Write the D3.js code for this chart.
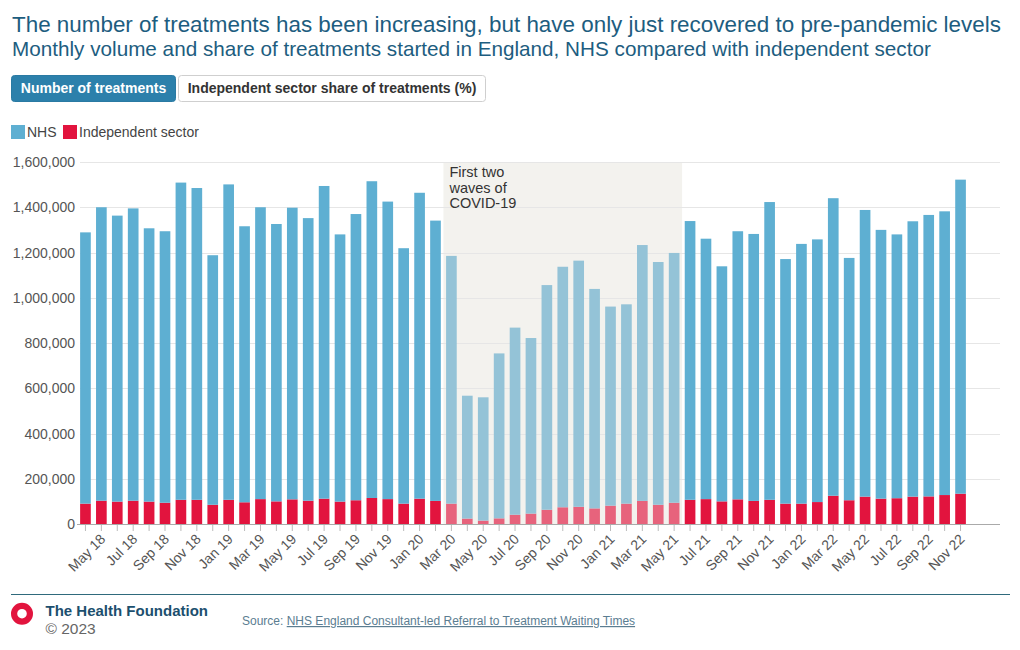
<!DOCTYPE html>
<html>
<head>
<meta charset="utf-8">
<script src="https://cdn.jsdelivr.net/npm/d3@7"></script>
<style>
  body { margin: 0; background: #fff; }
  svg { font-family: "Liberation Sans", Arial, sans-serif; display: block; }
</style>
</head>
<body>
<svg width="1020" height="650"></svg>
<script>
// monthly labels, Apr 18 .. Nov 22
let monthNames = ["Jan", "Feb", "Mar", "Apr", "May", "Jun", "Jul", "Aug", "Sep", "Oct", "Nov", "Dec"];
let months = [];
for (let y = 18; y <= 22; y++) {
    for (let m = 0; m < 12; m++) {
        if (y === 18 && m < 3) continue;
        if (y === 22 && m > 10) continue;
        months.push(monthNames[m] + " " + y);
    }
}

// thousands of treatments started
let nhs = [1199, 1297, 1264, 1292, 1208, 1200, 1402, 1378, 1103, 1394, 1220, 1290,
    1226, 1289, 1249, 1382, 1181, 1265, 1400, 1315, 1129, 1352, 1239, 1095,
    543, 545, 729, 827, 776, 993, 1063, 1088, 970, 880, 881, 1131, 1073, 1104,
    1232, 1151, 1039, 1185, 1180, 1316, 1081, 1148, 1161, 1315, 1071, 1267,
    1188, 1166, 1217, 1244, 1254, 1388];
let independent = [90, 103, 99, 103, 99, 94, 107, 107, 85, 107, 96, 110,
    100, 109, 103, 112, 99, 105, 115, 110, 90, 112, 102, 90,
    24, 15, 25, 41, 46, 63, 74, 76, 69, 81, 90, 102, 85, 94,
    107, 110, 100, 109, 102, 107, 90, 90, 97, 125, 105, 121,
    112, 114, 121, 122, 128, 134];

let covidStart = "Mar 20", covidEnd = "May 21";
let yTicks = [0, 200000, 400000, 600000, 800000, 1000000, 1200000, 1400000, 1600000];

let title = "The number of treatments has been increasing, but have only just recovered to pre-pandemic levels";
let subtitle = "Monthly volume and share of treatments started in England, NHS compared with independent sector";

let colNhs = "#5eafd2", colIs = "#e2143e";
let colNhsFade = "#94c3d7", colIsFade = "#e7637c";

let svg = d3.select("svg");

// fit a text to a target width
function fitText(sel, w) {
    let len = sel.node().getComputedTextLength();
    let fs = parseFloat(sel.attr("font-size"));
    sel.attr("font-size", (fs * w / len).toFixed(2));
}

let t1 = svg.append("text").attr("x", 12).attr("y", 32)
    .attr("font-size", 21).attr("fill", "#1d5d80").text(title);
fitText(t1, 989);
let t2 = svg.append("text").attr("x", 12).attr("y", 56)
    .attr("font-size", 19).attr("fill", "#1d5d80").text(subtitle);
fitText(t2, 919);

// buttons
svg.append("rect").attr("x", 11.5).attr("y", 75.5).attr("width", 164).attr("height", 26)
    .attr("rx", 3).attr("fill", "#2c80ab").attr("stroke", "#2a7aa3");
svg.append("text").attr("x", 93.5).attr("y", 93).attr("text-anchor", "middle")
    .attr("font-size", 14).attr("font-weight", "bold").attr("fill", "#fff").text("Number of treatments");
svg.append("rect").attr("x", 178.5).attr("y", 75.5).attr("width", 307).attr("height", 26)
    .attr("rx", 3).attr("fill", "#fff").attr("stroke", "#cfcfcf");
svg.append("text").attr("x", 332).attr("y", 93).attr("text-anchor", "middle")
    .attr("font-size", 14).attr("font-weight", "bold").attr("fill", "#333")
    .text("Independent sector share of treatments (%)");

// legend
let legend = [{ name: "NHS", col: colNhs, x: 11 }, { name: "Independent sector", col: colIs, x: 63 }];
legend.forEach(l => {
    svg.append("rect").attr("x", l.x).attr("y", 125).attr("width", 14).attr("height", 14).attr("fill", l.col);
    svg.append("text").attr("x", l.x + 16).attr("y", 137).attr("font-size", 14).attr("fill", "#444").text(l.name);
});

// scales
let x = d3.scaleBand().domain(months).range([77.5, 968.5]).paddingInner(0.33).paddingOuter(0.165);
let y = d3.scaleLinear().domain([0, 1600000]).range([524, 162]);

// covid shading
let sx0 = x(covidStart) - x.step() * x.paddingInner() / 2;
let sx1 = x(covidEnd) + x.bandwidth() + x.step() * x.paddingInner() / 2;
svg.append("rect").attr("x", sx0).attr("y", y(1600000)).attr("width", sx1 - sx0)
    .attr("height", y(0) - y(1600000)).attr("fill", "#f3f2ee");

// grid and y labels
svg.append("g").selectAll("line").data(yTicks.slice(1)).enter().append("line")
    .attr("x1", 80).attr("x2", 1000)
    .attr("y1", d => Math.round(y(d)) + 0.5).attr("y2", d => Math.round(y(d)) + 0.5)
    .attr("stroke", "#e6e6e6");
svg.append("g").selectAll("text").data(yTicks).enter().append("text")
    .attr("x", 75).attr("y", d => y(d) + 5).attr("text-anchor", "end")
    .attr("font-size", 14).attr("fill", "#555").text(d => d3.format(",")(d));

let inCovid = i => i >= months.indexOf(covidStart) && i <= months.indexOf(covidEnd);

// stacked bars
let rows = months.map((m, i) => ({ m: m, i: i, is: independent[i] * 1000, nhs: nhs[i] * 1000 }));
let bars = svg.append("g");
bars.selectAll(".is").data(rows).enter().append("rect").attr("class", "is")
    .attr("x", d => x(d.m)).attr("width", x.bandwidth())
    .attr("y", d => y(d.is)).attr("height", d => y(0) - y(d.is))
    .attr("fill", d => inCovid(d.i) ? colIsFade : colIs);
bars.selectAll(".nhs").data(rows).enter().append("rect").attr("class", "nhs")
    .attr("x", d => x(d.m)).attr("width", x.bandwidth())
    .attr("y", d => y(d.is + d.nhs)).attr("height", d => y(d.is) - y(d.is + d.nhs))
    .attr("fill", d => inCovid(d.i) ? colNhsFade : colNhs);

// x axis
svg.append("line").attr("x1", 77).attr("x2", 1000).attr("y1", 524.5).attr("y2", 524.5).attr("stroke", "#aaa");
svg.append("g").selectAll("line").data(months).enter().append("line")
    .attr("x1", d => x(d) + x.bandwidth() / 2).attr("x2", d => x(d) + x.bandwidth() / 2)
    .attr("y1", 525).attr("y2", 531).attr("stroke", "#bbb");
svg.append("g").selectAll("text").data(months.filter((m, i) => i % 2 === 1)).enter().append("text")
    .attr("transform", d => `translate(${x(d) + x.bandwidth() / 2 + 5},540) rotate(-45)`)
    .attr("text-anchor", "end").attr("font-size", 14).attr("fill", "#555").text(d => d);

// annotation
["First two", "waves of", "COVID-19"].forEach((s, k) => {
    svg.append("text").attr("x", sx0 + 6).attr("y", 177 + k * 15.5)
        .attr("font-size", 14.5).attr("fill", "#333").text(s);
});

// footer
svg.append("line").attr("x1", 11).attr("x2", 1010).attr("y1", 594.5).attr("y2", 594.5).attr("stroke", "#2f6a7c");
svg.append("path")
    .attr("d", d3.arc()({ innerRadius: 4.8, outerRadius: 11, startAngle: 0, endAngle: 2 * Math.PI }))
    .attr("transform", "translate(22,613.7)").attr("fill", "#e2143e");
svg.append("text").attr("x", 45.5).attr("y", 616).attr("font-size", 15).attr("font-weight", 600)
    .attr("fill", "#1c4f6e").text("The Health Foundation");
svg.append("text").attr("x", 45.5).attr("y", 633.5).attr("font-size", 15.5).attr("fill", "#666").text("© 2023");
let src = svg.append("text").attr("x", 242).attr("y", 625).attr("font-size", 12).attr("fill", "#5b7d91");
src.append("tspan").text("Source: ");
src.append("tspan").attr("text-decoration", "underline").text("NHS England Consultant-led Referral to Treatment Waiting Times");
</script>
</body>
</html>
